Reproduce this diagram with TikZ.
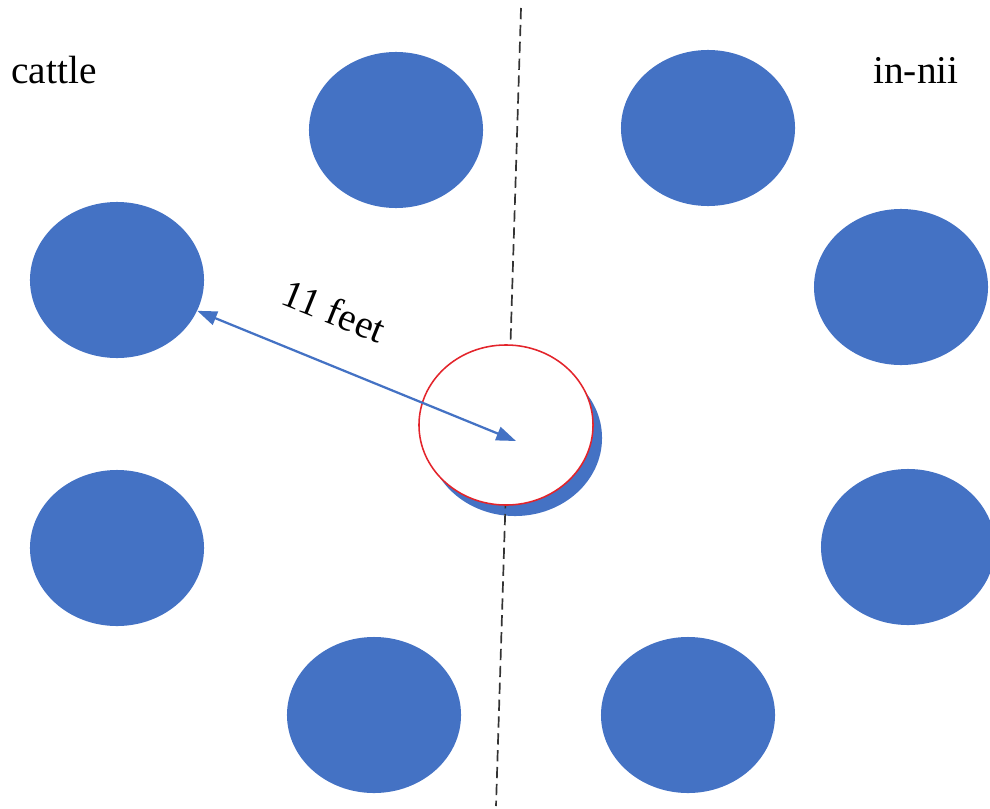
\documentclass[tikz,border=0pt]{standalone}
\usepackage{fontspec}
\setmainfont{Liberation Serif}
\usetikzlibrary{shapes.geometric,arrows.meta}
\definecolor{spot}{HTML}{4472C4}
\definecolor{ring}{HTML}{E3242B}
\begin{document}
\begin{tikzpicture}[
  x=0.025cm, y=-0.025cm,
  font=\fontsize{28}{34}\selectfont,
  spot/.style={ellipse,fill=spot,draw=none,
    minimum width=4.35cm,minimum height=3.9cm,inner sep=0pt},
  ringbox/.style={ellipse,fill=white,draw=ring,line width=1.1pt,
    minimum width=4.35cm,minimum height=4.0cm,inner sep=0pt},
  divider/.style={draw=black!80,line width=1.2pt,dash pattern=on 8pt off 4pt},
  span/.style={draw=spot,line width=1.6pt,
    {Triangle[length=14pt,width=10pt]}-{Triangle[length=14pt,width=10pt]}},
  label/.style={inner sep=0pt,anchor=center}]
\useasboundingbox (0,0) rectangle (990,808);
% outer spots
\node[spot] (tl) at (396,130) {};
\node[spot] (tr) at (708,128) {};
\node[spot] (lu) at (117,280) {};
\node[spot] (ru) at (901,287) {};
\node[spot] (ll) at (117,548) {};
\node[spot] (rl) at (908,547) {};
\node[spot] (bl) at (374,715) {};
\node[spot] (br) at (688,715) {};
% centre
\node[spot] (shadow) at (515,438) {};
\coordinate (top) at (521,8);
\coordinate (bottom) at (496,806);
\draw[divider] (top) -- (bottom);
\node[ringbox] (centre) at (506,425) {};
\coordinate (tip) at (516,441);
\draw[span] (lu.-21) -- (tip);
% labels
\node[label] (feet) at (334,311) [rotate=-22] {11 feet};
\node[label] (cattle) at (54,70) {cattle};
\node[label] (innii) at (916,70) {in-nii};
\end{tikzpicture}
\end{document}
